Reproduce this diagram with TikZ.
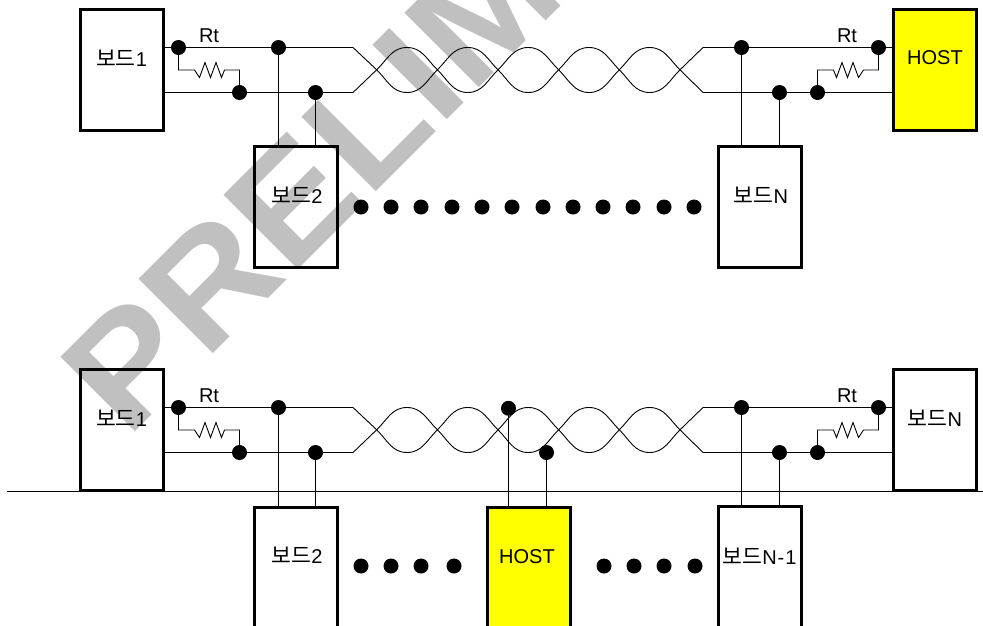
\documentclass[tikz,border=0pt]{standalone}
\usepackage{fontspec}
\setmainfont{Liberation Sans}
\newfontfamily\cjk[Scale=1.08]{Noto Sans CJK KR}
\newfontfamily\wmfont[FakeStretch=1.08]{Liberation Sans Bold}
\definecolor{hostyellow}{RGB}{255,255,0}
\definecolor{wmgray}{RGB}{192,192,192}
\tikzset{
  x=1pt,y=-1pt,
  board/.style={draw=black,line width=3pt,outer sep=0pt,minimum width=83pt,minimum height=120.5pt,inner sep=0pt,anchor=north west},
  hostbox/.style={board,fill=hostyellow},
  lbl/.style={font=\fontsize{20}{20}\selectfont,inner sep=0pt,text=black},
  joint/.style={circle,fill=black,minimum size=15pt,inner sep=0pt},
  wire/.style={draw=black,line width=1.2pt},
  thin wire/.style={draw=black,line width=.9pt},
  pics/twist/.style={code={
    \coordinate (-a) at (353,47.5); \coordinate (-b) at (353,92.5);
    \coordinate (-c) at (703,47.5); \coordinate (-d) at (703,92.5);
    \draw[thin wire] (353,47.5) -- (376.7,69.8)
      .. controls (387.2,80) and (392,92.5) .. (407,92.5)
      .. controls (422,92.5) and (426.9,80) .. (437.4,69.8)
      .. controls (447.9,59.6) and (452.7,47.5) .. (467.7,47.5)
      .. controls (482.7,47.5) and (487.5,59.6) .. (498,69.8)
      .. controls (508.5,80) and (513.3,92.5) .. (528.3,92.5)
      .. controls (543.3,92.5) and (548.1,80) .. (558.6,69.8)
      .. controls (569.1,59.6) and (574,47.5) .. (589,47.5)
      .. controls (604,47.5) and (608.8,59.6) .. (619.3,69.8)
      .. controls (629.8,80) and (634.5,92.5) .. (649.5,92.5)
      .. controls (664.5,92.5) and (669.5,80) .. (680,69.8) -- (703,47.5);
    \draw[thin wire] (353,92.5) -- (376.7,69.8)
      .. controls (387.2,59.6) and (392,47.5) .. (407,47.5)
      .. controls (422,47.5) and (426.9,59.6) .. (437.4,69.8)
      .. controls (447.9,80) and (452.7,92.5) .. (467.7,92.5)
      .. controls (482.7,92.5) and (487.5,80) .. (498,69.8)
      .. controls (508.5,59.6) and (513.3,47.5) .. (528.3,47.5)
      .. controls (543.3,47.5) and (548.1,59.6) .. (558.6,69.8)
      .. controls (569.1,80) and (574,92.5) .. (589,92.5)
      .. controls (604,92.5) and (608.8,80) .. (619.3,69.8)
      .. controls (629.8,59.6) and (634.5,47.5) .. (649.5,47.5)
      .. controls (664.5,47.5) and (669.5,59.6) .. (680,69.8) -- (703,92.5);
  }},
  pics/rleft/.style={code={
    \draw[thin wire] (0,0) -- (0,22.5) -- (16,22.5) -- ++(5,7.5) -- ++(5.5,-15) -- ++(5.5,15) -- ++(5.5,-15) -- ++(5.5,15) -- ++(3,-7.5) -- (61,22.5) -- (61,45);
  }},
  pics/rright/.style={code={
    \draw[thin wire] (0,0) -- (0,22.5) -- (-15,22.5) -- ++(-5,7.5) -- ++(-5.5,-15) -- ++(-5.5,15) -- ++(-5.5,-15) -- ++(-5.5,15) -- ++(-3,-7.5) -- (-61,22.5) -- (-61,45);
  }},
}
\begin{document}
\begin{tikzpicture}
\useasboundingbox (0,0) rectangle (983,625);
\begin{scope}
\clip (0,0) rectangle (983,625);
% watermark
\node[anchor=base west,rotate=45,inner sep=0pt,text=wmgray,font=\wmfont\fontsize{153}{153}\selectfont] (wm) at (127.7,439.6) {PRELIM};

% top diagram boards
\node[board] (t1) at (80.8,9.8) {};
\node[hostbox] (thost) at (893.8,9.8) {};
\node[board] (t2) at (254.8,146.8) {};
\node[board] (tn) at (718.8,146.5) {};
\node[lbl] (lt1) at (121.5,58) {{\cjk 보드}1};
\node[lbl] (lthost) at (935,58) {HOST};
\node[lbl] (lt2) at (297,195) {{\cjk 보드}2};
\node[lbl] (ltn) at (761,195) {{\cjk 보드}N};
\node[lbl] (rt1) at (209,36) {Rt};
\node[lbl] (rt2) at (847,36) {Rt};

% bottom diagram boards
\node[board] (b1) at (80.8,369.8) {};
\node[board] (bn) at (893.8,369.5) {};
\node[board,minimum height=140pt] (b2) at (254.8,507) {};
\node[hostbox,minimum height=140pt] (bhost) at (487.2,507.2) {};
\node[board,minimum height=140pt] (bm) at (718.8,506.5) {};
\node[lbl] (lb1) at (121.5,418) {{\cjk 보드}1};
\node[lbl] (lbn) at (935,418) {{\cjk 보드}N};
\node[lbl] (lb2) at (297,555) {{\cjk 보드}2};
\node[lbl] (lbh) at (527,557) {HOST};
\node[lbl] (lbm) at (759.5,556) {{\cjk 보드}N\kern1pt-\kern1pt1};
\node[lbl] (rb1) at (209,396) {Rt};
\node[lbl] (rb2) at (847,396) {Rt};

% bus line
\coordinate (busl) at (7,491.5);
\coordinate (busr) at (983,491.5);
\draw[wire] (busl) -- (busr);

% top joints
\foreach \n/\x/\y in {ta/178.5/47.5,tb/278.5/47.5,tc/239.5/92.5,td/315.5/92.5,te/741.5/47.5,tf/878.5/47.5,tg/779.5/92.5,th/817.5/92.5}
  \node[joint] (\n) at (\x,\y) {};
% bottom joints
\foreach \n/\x/\y in {ba/178.5/407.5,bb/278.5/407.5,bc/239.5/452.5,bd/315.5/452.5,be/741.5/407.5,bf/878.5/407.5,bg/779.5/452.5,bh/817.5/452.5,bi/508.5/408.3,bj/546.5/452.5}
  \node[joint] (\n) at (\x,\y) {};

% twisted pairs
\pic (tw) at (0,0) {twist};
\pic (bw) at (0,360) {twist};

% top wires
\draw[wire] (t1.east |- ta) -- (ta) -- (tb) -- (tw-a);
\draw[wire] (t1.east |- tc) -- (tc) -- (td) -- (tw-b);
\draw[wire] (tw-c) -- (te) -- (tf) -- (thost.west |- tf);
\draw[wire] (tw-d) -- (tg) -- (th) -- (thost.west |- th);
\draw[wire] (tb) -- (tb |- t2.north);
\draw[wire] (td) -- (td |- t2.north);
\draw[wire] (te) -- (te |- tn.north);
\draw[wire] (tg) -- (tg |- tn.north);
\pic at (ta) {rleft};
\pic at (tf) {rright};

% bottom wires
\draw[wire] (b1.east |- ba) -- (ba) -- (bb) -- (bw-a);
\draw[wire] (b1.east |- bc) -- (bc) -- (bd) -- (bw-b);
\draw[wire] (bw-c) -- (be) -- (bf) -- (bn.west |- bf);
\draw[wire] (bw-d) -- (bg) -- (bh) -- (bn.west |- bh);
\draw[wire] (bb) -- (bb |- b2.north);
\draw[wire] (bd) -- (bd |- b2.north);
\draw[wire] (bi) -- (bi |- bhost.north);
\draw[wire] (bj) -- (bj |- bhost.north);
\draw[wire] (be) -- (be |- bm.north);
\draw[wire] (bg) -- (bg |- bm.north);
\pic at (ba) {rleft};
\pic at (bf) {rright};

% ellipsis dots
\foreach \i/\x in {1/361,2/391,3/421,4/452,5/482,6/512,7/543,8/573,9/603,10/633,11/664,12/694}
  \node[joint] (e\i) at (\x,207) {};
\foreach \i/\x in {1/361,2/391,3/421,4/454,5/604,6/634,7/664,8/695}
  \node[joint] (f\i) at (\x,566) {};
\end{scope}
\end{tikzpicture}
\end{document}
